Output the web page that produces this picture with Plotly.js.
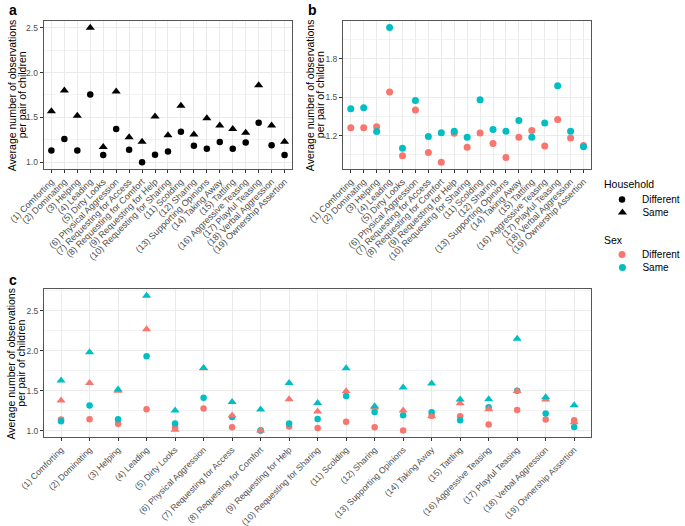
<!DOCTYPE html>
<html>
<head>
<meta charset="utf-8">
<script src="https://cdn.plot.ly/plotly-3.0.1.min.js"></script>
<style>html,body{margin:0;padding:0;background:#fff;}#chart{width:685px;height:526px;}</style>
</head>
<body>
<div id="chart"></div>
<script>
const categories = ["(1) Comforting","(2) Dominating","(3) Helping","(4) Leading","(5) Dirty Looks","(6) Physical Aggression","(7) Requesting for Access","(8) Requesting for Comfort","(9) Requesting for Help","(10) Requesting for Sharing","(11) Scolding","(12) Sharing","(13) Supporting Opinions","(14) Taking Away","(15) Tattling","(16) Aggressive Teasing","(17) Playful Teasing","(18) Verbal Aggression","(19) Ownership Assertion"];

// Panel a: by household
const householdDifferent = [1.13,1.26,1.13,1.755,1.08,1.37,1.14,1.00,1.085,1.12,1.34,1.185,1.15,1.225,1.15,1.22,1.44,1.19,1.08];
const householdSame = [1.57,1.80,1.52,2.50,1.17,1.79,1.28,1.23,1.51,1.30,1.63,1.31,1.49,1.41,1.37,1.33,1.86,1.41,1.23];

// Panel b: by sex
const sexDifferent = [1.262,1.262,1.268,1.54,1.042,1.40,1.068,0.992,1.218,1.109,1.221,1.138,1.029,1.187,1.239,1.119,1.325,1.182,1.122];
const sexSame = [1.41,1.418,1.231,2.044,1.101,1.473,1.192,1.223,1.234,1.187,1.48,1.247,1.234,1.317,1.187,1.299,1.59,1.234,1.112];

// Panel c: sex x household
const diffSexDiffHouse = [1.138,1.142,1.084,1.267,1.042,1.276,1.042,1.00,1.05,1.033,1.109,1.042,1.00,1.185,1.18,1.075,1.259,1.138,1.13];
const sameSexDiffHouse = [1.117,1.313,1.142,1.93,1.088,1.41,1.17,1.00,1.088,1.146,1.434,1.234,1.192,1.23,1.13,1.292,1.50,1.213,1.046];
const diffSexSameHouse = [1.376,1.597,1.50,2.27,1.01,1.78,1.188,1.00,1.392,1.238,1.493,1.29,1.25,1.18,1.342,1.267,1.497,1.388,1.104];
const sameSexSameHouse = [1.626,1.98,1.514,2.69,1.25,1.785,1.359,1.263,1.597,1.347,1.78,1.305,1.539,1.589,1.388,1.392,2.152,1.418,1.317];

const yTitleLines = ['Average number of observations', 'per pair of children'];
const legendTitles = ['Household', 'Sex'];

const RED = '#F8766D', TEAL = '#00BFC4';
const FONT = 'Liberation Sans, Arial, sans-serif';

const traces = [
  {x: categories, y: householdDifferent, xaxis:'x', yaxis:'y', type:'scatter', mode:'markers', name:'Different', legend:'legend2',
   marker:{symbol:'circle', size:6.5, color:'#000'}},
  {x: categories, y: householdSame, xaxis:'x', yaxis:'y', type:'scatter', mode:'markers', name:'Same', legend:'legend3',
   marker:{symbol:'triangle-up', size:8, color:'#000'}},
  {x: categories, y: sexDifferent, xaxis:'x2', yaxis:'y2', type:'scatter', mode:'markers', name:'Different', legend:'legend4',
   marker:{symbol:'circle', size:7, color:RED}},
  {x: categories, y: sexSame, xaxis:'x2', yaxis:'y2', type:'scatter', mode:'markers', name:'Same', legend:'legend5',
   marker:{symbol:'circle', size:7, color:TEAL}},
  {x: categories, y: diffSexDiffHouse, xaxis:'x3', yaxis:'y3', type:'scatter', mode:'markers', showlegend:false,
   marker:{symbol:'circle', size:6.5, color:RED}},
  {x: categories, y: sameSexDiffHouse, xaxis:'x3', yaxis:'y3', type:'scatter', mode:'markers', showlegend:false,
   marker:{symbol:'circle', size:6.5, color:TEAL}},
  {x: categories, y: diffSexSameHouse, xaxis:'x3', yaxis:'y3', type:'scatter', mode:'markers', showlegend:false,
   marker:{symbol:'triangle-up', size:8, color:RED}},
  {x: categories, y: sameSexSameHouse, xaxis:'x3', yaxis:'y3', type:'scatter', mode:'markers', showlegend:false,
   marker:{symbol:'triangle-up', size:8, color:TEAL}}
];

function xax(domain, anchor, fs) {
  return {domain: domain, anchor: anchor, type:'category', range:[-0.6, 18.6], tickangle:-45,
    showline:true, mirror:true, linecolor:'#555', linewidth:1, showgrid:true, gridcolor:'#ebebeb', gridwidth:1,
    ticks:'outside', ticklen:3, tickcolor:'#333', tickfont:{family:FONT, size:fs, color:'#4d4d4d'},
    zeroline:false, automargin:false, fixedrange:true};
}
function yax(domain, anchor, range, dtick) {
  return {domain: domain, anchor: anchor, range: range, tickmode:'linear', tick0:0, dtick:dtick, tickformat:'.1f',
    minor:{tick0:0, dtick:dtick/2, showgrid:true, gridcolor:'#f3f3f3', gridwidth:1, ticks:''},
    showline:true, mirror:true, linecolor:'#555', linewidth:1, showgrid:true, gridcolor:'#ebebeb', gridwidth:1,
    ticks:'outside', ticklen:3, tickcolor:'#333', tickfont:{family:FONT, size:8.5, color:'#4d4d4d'},
    zeroline:false, automargin:false, fixedrange:true};
}
function legendAt(topPx) {
  return {x: 631/685, y: 1 - topPx/526, xanchor:'left', yanchor:'top', bgcolor:'rgba(0,0,0,0)',
    font:{family:FONT, size:10}, tracegroupgap:0, itemwidth:30};
}
function yTitleAnns(domain, xPx) {
  return yTitleLines.map((t, i) => ({text: t, x: (xPx + i*10.5)/685, y: (domain[0]+domain[1])/2, xref:'paper', yref:'paper',
    xanchor:'center', yanchor:'middle', textangle:-90, showarrow:false, font:{family:FONT, size:10.5, color:'#000'}}));
}

const domA = [0.6787, 0.9606], domC = [0.1686, 0.4506];

const layout = {
  width: 685, height: 526,
  margin: {l:0, r:0, t:0, b:0},
  paper_bgcolor:'#fff', plot_bgcolor:'#fff',
  font:{family:FONT, color:'#000'},
  hovermode:false,
  xaxis: xax([0.0667, 0.447], 'y', 9),
  yaxis: yax(domA, 'x', [0.925, 2.578], 0.5),
  xaxis2: xax([0.5245, 0.9041], 'y2', 9),
  yaxis2: yax(domA, 'x2', [0.939, 2.097], 0.3),
  xaxis3: xax([0.0672, 0.9041], 'y3', 8.7),
  yaxis3: yax(domC, 'x3', [0.9155, 2.7745], 0.5),
  legend2: legendAt(185),
  legend3: legendAt(198),
  legend4: legendAt(240),
  legend5: legendAt(253),
  annotations: [
    {text:'<b>a</b>', x:7/685, y:1-10/526, xref:'paper', yref:'paper', xanchor:'left', yanchor:'middle', showarrow:false, font:{family:FONT, size:14}},
    {text:'<b>b</b>', x:321/685, y:1-10/526, xref:'paper', yref:'paper', xanchor:'left', yanchor:'middle', showarrow:false, font:{family:FONT, size:14}},
    {text:'<b>c</b>', x:7/685, y:1-280/526, xref:'paper', yref:'paper', xanchor:'left', yanchor:'middle', showarrow:false, font:{family:FONT, size:14}},
    ...yTitleAnns(domA, 12),
    ...yTitleAnns(domA, 325),
    ...yTitleAnns(domC, 12),
    {text: legendTitles[0], x:631/685, y:1-184/526, xref:'paper', yref:'paper', xanchor:'left', yanchor:'middle', showarrow:false, font:{family:FONT, size:10.5}},
    {text: legendTitles[1], x:631/685, y:1-240/526, xref:'paper', yref:'paper', xanchor:'left', yanchor:'middle', showarrow:false, font:{family:FONT, size:10.5}}
  ]
};

Plotly.newPlot('chart', traces, layout, {displayModeBar:false, staticPlot:true});
</script>
</body>
</html>
